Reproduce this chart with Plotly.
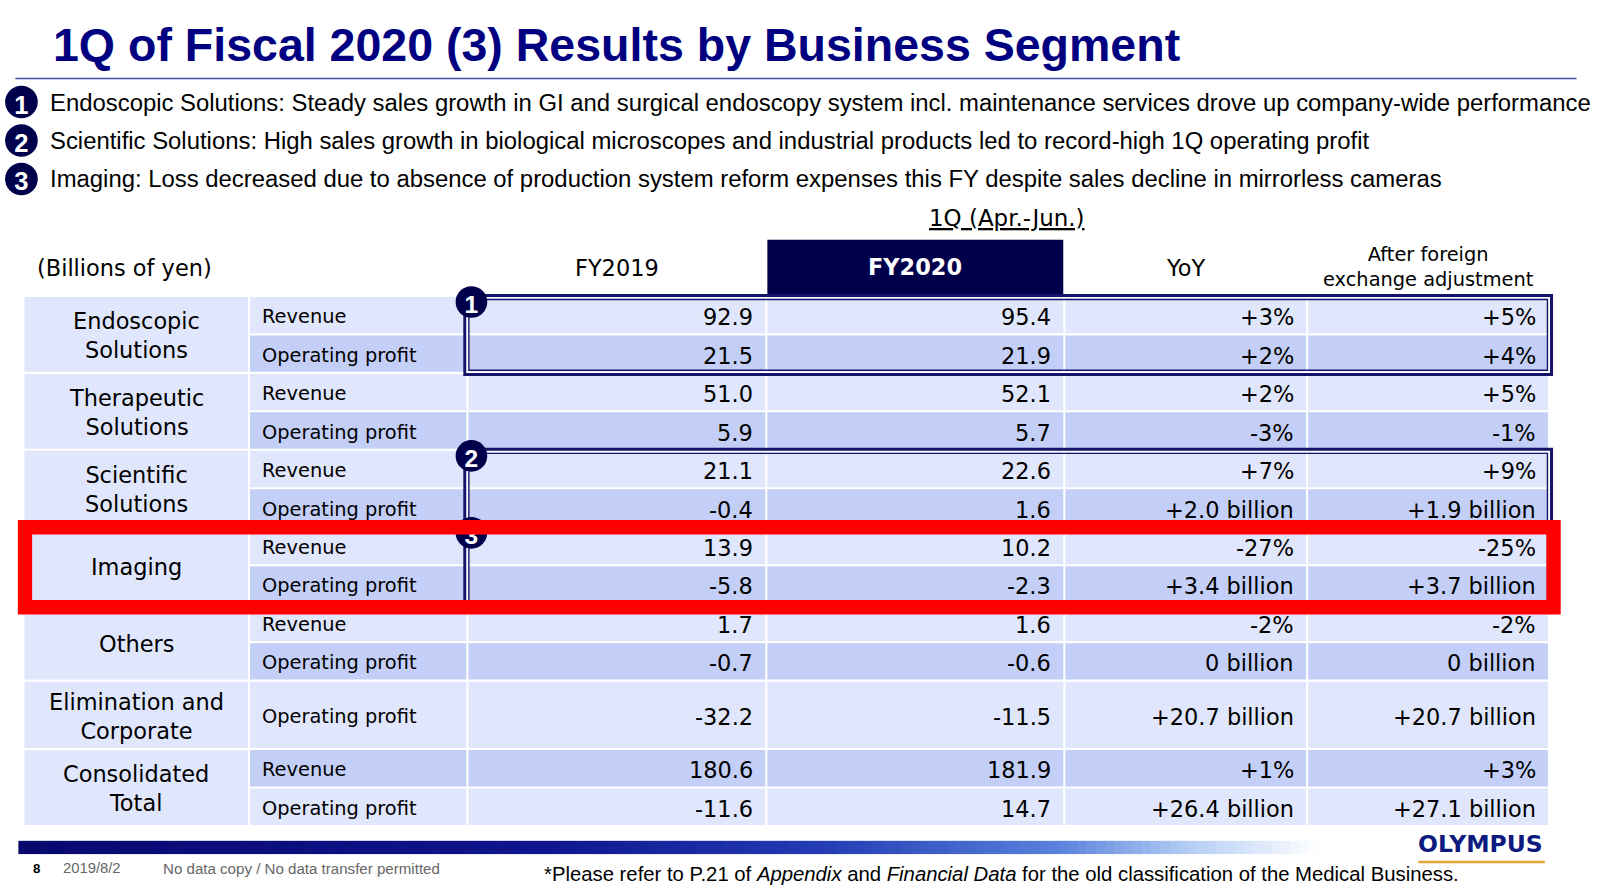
import plotly.graph_objects as go

# ---------------- data ----------------
segments = ["Endoscopic<br>Solutions", "Therapeutic<br>Solutions", "Scientific<br>Solutions",
            "Imaging", "Others", "Elimination and<br>Corporate", "Consolidated<br>Total"]
row_segment = [0, 0, 1, 1, 2, 2, 3, 3, 4, 4, 5, 6, 6]
row_items = ["Revenue", "Operating profit"] * 5 + ["Operating profit", "Revenue", "Operating profit"]
fy2019 = [92.9, 21.5, 51.0, 5.9, 21.1, -0.4, 13.9, -5.8, 1.7, -0.7, -32.2, 180.6, -11.6]
fy2020 = [95.4, 21.9, 52.1, 5.7, 22.6, 1.6, 10.2, -2.3, 1.6, -0.6, -11.5, 181.9, 14.7]
yoy = ["+3%", "+2%", "+2%", "-3%", "+7%", "+2.0 billion", "-27%", "+3.4 billion",
       "-2%", "0 billion", "+20.7 billion", "+1%", "+26.4 billion"]
fx_adj = ["+5%", "+4%", "+5%", "-1%", "+9%", "+1.9 billion", "-25%", "+3.7 billion",
          "-2%", "0 billion", "+20.7 billion", "+3%", "+27.1 billion"]
col_headers = ["FY2019", "FY2020", "YoY", "After foreign<br>exchange adjustment"]
unit_label = "(Billions of yen)"
period_label = "1Q (Apr.-Jun.)"
title = "1Q of Fiscal 2020 (3) Results by Business Segment"
bullets = [
    "Endoscopic Solutions: Steady sales growth in GI and surgical endoscopy system incl. maintenance services drove up company-wide performance",
    "Scientific Solutions: High sales growth in biological microscopes and industrial products led to record-high 1Q operating profit",
    "Imaging: Loss decreased due to absence of production system reform expenses this FY despite sales decline in mirrorless cameras",
]
boxed_segments = [0, 2, 3]      # numbered highlight boxes 1, 2, 3
red_segment = 3

# ---------------- layout constants ----------------
S = 1600 / 1568
W, H = 1568, 890 / S
def fs(p):
    return round(p * S, 2)

NAVY = "#000080"
DARK = "#00004a"
LIGHT = "#e0e6fb"
DEEP = "#c4cff7"
BODY = "DejaVu Sans"
TAHOMA = "Liberation Sans"

col_edges = [23, 244, 458, 751, 1043, 1281, 1518]
table_top = 290
sub_h = 37.7
single_h = 67

# row bounds
counts = {}
for s in row_segment:
    counts[s] = counts.get(s, 0) + 1
row_bounds = []
y = table_top
for s in row_segment:
    h = sub_h if counts[s] > 1 else single_h
    row_bounds.append((y, y + h))
    y += h
seg_bounds = {}
for i, s in enumerate(row_segment):
    a, b = row_bounds[i]
    if s not in seg_bounds:
        seg_bounds[s] = [a, b]
    else:
        seg_bounds[s][1] = b

shapes = []
annotations = []

def rect(x0, y0, x1, y1, fill=None, line_color=None, lw=0, layer="above"):
    d = dict(type="rect", xref="x", yref="y", x0=x0, y0=y0, x1=x1, y1=y1, layer=layer,
             line=dict(width=lw, color=line_color or "rgba(0,0,0,0)"))
    d["fillcolor"] = fill if fill else "rgba(0,0,0,0)"
    shapes.append(d)

def text(x, y, t, size, color="#000000", family=BODY, xanchor="left", weight="normal", align="left"):
    annotations.append(dict(x=x, y=y, xref="x", yref="y", text=t, showarrow=False,
                            xanchor=xanchor, yanchor="middle", align=align,
                            font=dict(size=fs(size), color=color, family=family, weight=weight)))

# ---------------- title ----------------
text(50, 44, title, 45.6, color=NAVY, family=TAHOMA, weight="bold")
shapes.append(dict(type="line", xref="x", yref="y", x0=15, x1=1545, y0=77, y1=77,
                   line=dict(color="#3a4fa6", width=1.5)))

# bullets
for i, b in enumerate(bullets):
    cy = 100 + i * 37.7
    shapes.append(dict(type="circle", xref="x", yref="y", x0=5, x1=37, y0=cy - 16, y1=cy + 16,
                       fillcolor=DARK, line=dict(width=0),
                       label=dict(text=f"<b>{i + 1}</b>", font=dict(color="white", size=fs(25), family=TAHOMA),
                                  textposition="middle center")))
    text(47, cy, b, 23.4, family=TAHOMA)

# ---------------- header ----------------
text(987, 214, f"<u>{period_label}</u>", 22.5, xanchor="center")
text(34, 263, unit_label, 22)
rect(col_edges[3] + 1, 235, col_edges[4] - 1, 289, fill=DARK)
for j, h in enumerate(col_headers):
    cx = (col_edges[j + 2] + col_edges[j + 3]) / 2
    if j == 1:
        text(cx, 262, h, 22, color="white", xanchor="center", weight="bold")
    elif j == 3:
        text(cx, 262, h, 19, xanchor="center", align="center")
    else:
        text(cx, 263, h, 22, xanchor="center")

# ---------------- cells ----------------
for s, (a, b) in seg_bounds.items():
    rect(col_edges[0] + 1, a + 1, col_edges[1] - 1, b - 1, fill=LIGHT)
    text((col_edges[0] + col_edges[1]) / 2, (a + b) / 2 + 1.5, segments[s], 22, xanchor="center", align="center")

value_cols = [[f"{v:.1f}" for v in fy2019], [f"{v:.1f}" for v in fy2020], yoy, fx_adj]
for i, (a, b) in enumerate(row_bounds):
    fill = LIGHT if i % 2 == 0 else DEEP
    cy = (a + b) / 2
    for c in range(1, 6):
        rect(col_edges[c] + 1, a + 1, col_edges[c + 1] - 1, b - 1, fill=fill)
    text(255, cy + 1.5, row_items[i], 19)
    for j, vals in enumerate(value_cols):
        text(col_edges[j + 3] - 11, cy + 2, vals[i], 22, xanchor="right")

# ---------------- highlight boxes ----------------
BOXC = "#14146a"
for n, s in enumerate(boxed_segments):
    a, b = seg_bounds[s]
    x0, x1 = 457, 1519
    rect(x0 - 1.5, a - 0.5, x1 + 1.5, b + 1.5, line_color=BOXC, lw=3)
    rect(x0 + 1, a + 2, x1 - 1, b - 1, line_color="white", lw=1.2)
    rect(x0 + 2.5, a + 3.5, x1 - 2.5, b - 2.5, line_color=BOXC, lw=1.4)
    cx = x0 + 5
    cy = a + 6
    shapes.append(dict(type="circle", xref="x", yref="y", x0=cx - 15.5, x1=cx + 15.5, y0=cy - 15.5, y1=cy + 15.5,
                       fillcolor=DARK, line=dict(width=0),
                       label=dict(text=f"<b>{n + 1}</b>", font=dict(color="white", size=fs(24), family=TAHOMA),
                                  textposition="middle center")))

# red box
ra, rb = seg_bounds[red_segment]
rect(24.5, ra + 0.5, 1522.5, rb + 3.5, line_color="#ff0000", lw=fs(14))

# ---------------- footer ----------------
stops = [(0.0, (8, 8, 110)), (0.4, (14, 20, 140)), (0.62, (35, 60, 180)),
         (0.8, (90, 130, 220)), (0.9, (180, 205, 245)), (1.0, (255, 255, 255))]
def grad(t):
    for k in range(len(stops) - 1):
        t0, c0 = stops[k]
        t1, c1 = stops[k + 1]
        if t0 <= t <= t1:
            u = (t - t0) / (t1 - t0)
            return "rgb(%d,%d,%d)" % tuple(round(c0[q] + (c1[q] - c0[q]) * u) for q in range(3))
    return "rgb(255,255,255)"
N = 140
gx0, gx1 = 18, 1292
for k in range(N):
    xa = gx0 + (gx1 - gx0) * k / N
    xb = gx0 + (gx1 - gx0) * (k + 1) / N + 0.6
    rect(xa, 824, xb, 837, fill=grad((k + 0.5) / N))

text(1451, 827, "OLYMPUS", 23, color="#0c1a80", family="DejaVu Sans", xanchor="center", weight="bold")
rect(1390, 843.5, 1514, 846, fill="#e3a53a")
text(30, 851, "<b>8</b>", 13, family=TAHOMA)
text(60, 851, "2019/8/2", 14.5, color="#666666", family=TAHOMA)
text(158, 851, "No data copy / No data transfer permitted", 14.8, color="#666666", family=TAHOMA)
text(531, 857, "*Please refer to P.21 of <i>Appendix</i> and <i>Financial Data</i> for the old classification of the Medical Business.",
     19.9, family=TAHOMA)

fig = go.Figure()
fig.add_trace(go.Scatter(x=[0], y=[0], mode="markers", marker=dict(opacity=0), hoverinfo="skip", showlegend=False))
fig.update_layout(
    width=1600, height=890, autosize=False,
    margin=dict(l=0, r=0, t=0, b=0, pad=0),
    paper_bgcolor="white", plot_bgcolor="white",
    xaxis=dict(range=[0, W], visible=False, fixedrange=True),
    yaxis=dict(range=[H, 0], visible=False, fixedrange=True),
    shapes=shapes, annotations=annotations, showlegend=False,
)
fig.write_html("out.html", config={"displayModeBar": False},
               post_script="document.body.style.margin='0';document.body.style.overflow='hidden';")
